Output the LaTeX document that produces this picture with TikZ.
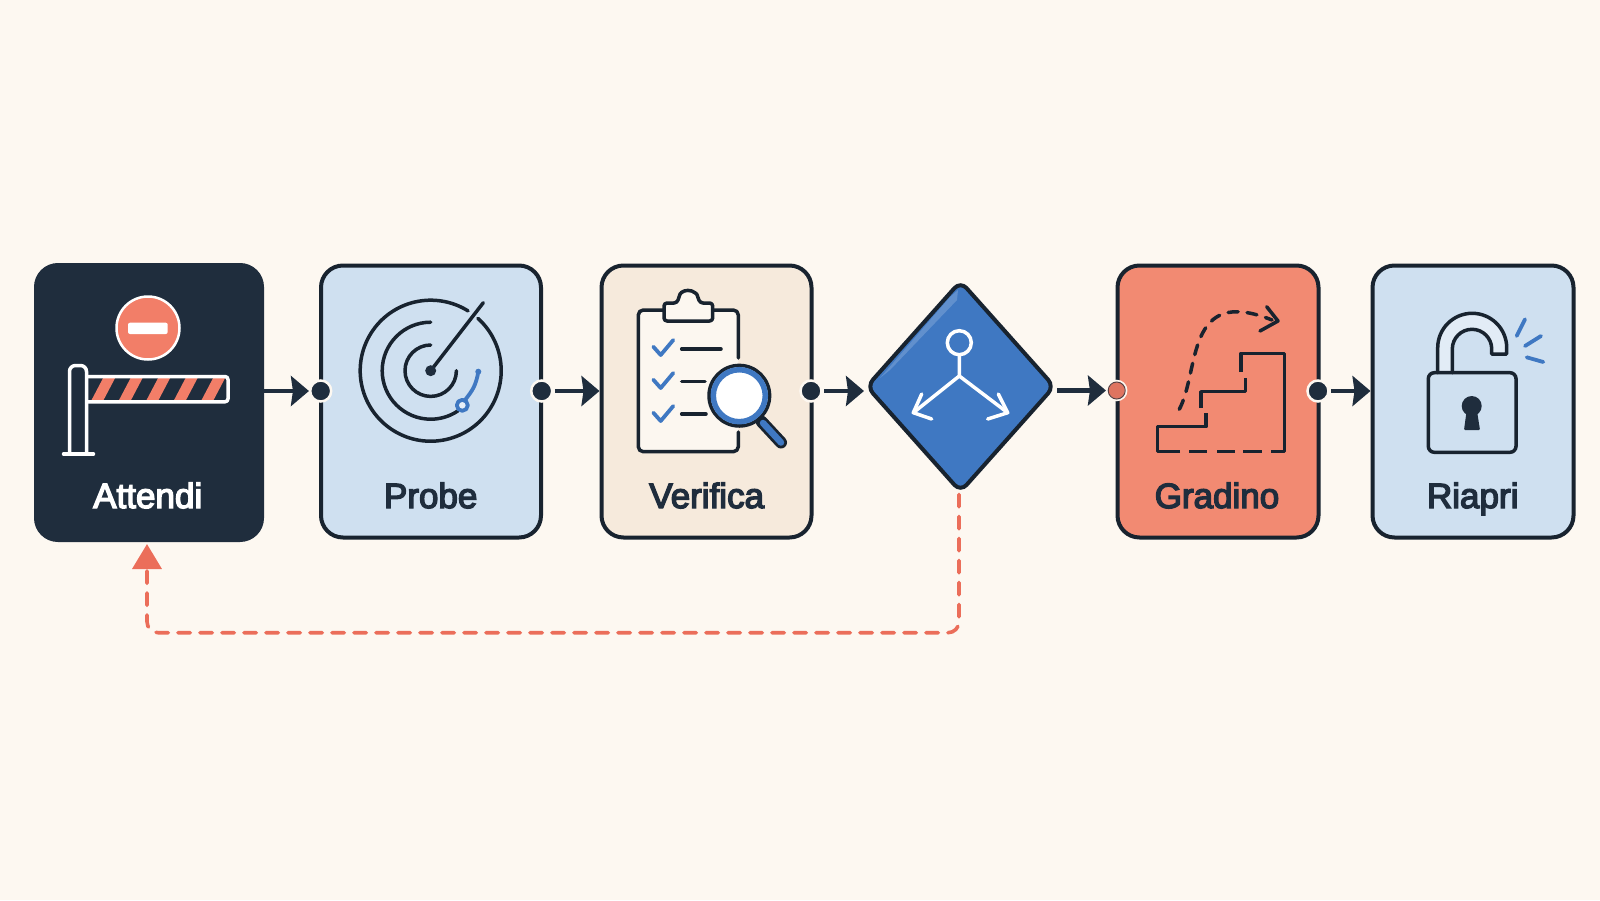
\documentclass[tikz,border=0pt]{standalone}
\usepackage{fontspec}
\usepackage{tikz}
\usetikzlibrary{arrows.meta,shapes.geometric}
\newfontface\cardfont{Liberation Sans}[FakeBold=4]
\definecolor{paper}{HTML}{FDF8F1}
\definecolor{ink}{HTML}{1F2D3D}
\definecolor{edge}{HTML}{18232F}
\definecolor{sky}{HTML}{CFE0F0}
\definecolor{sand}{HTML}{F6EADC}
\definecolor{coral}{HTML}{F28A72}
\definecolor{signred}{HTML}{F27E68}
\definecolor{returnred}{HTML}{EB6E5A}
\definecolor{azure}{HTML}{3F78C2}
\definecolor{boardwhite}{HTML}{FCF7F0}
\tikzset{
  cardbox/.style={draw=edge,line width=4pt,rounded corners=22pt,minimum width=#1,minimum height=272pt,inner sep=0pt},
  cardlabel/.style={anchor=base,text=ink,font=\cardfont\fontsize{35}{35}\selectfont,inner sep=0pt},
  portdot/.style={circle,fill=ink,draw=paper,line width=2.5pt,minimum size=21pt,inner sep=0pt},
  flowarrow/.style={draw=ink,line width=4.5pt,-{Stealth[length=18pt,width=30pt,inset=2pt]}},
  iconline/.style={draw=edge,line width=3.5pt,line cap=round,line join=round},
  whiteline/.style={draw=white,line width=3.5pt,line cap=round,line join=round},
  blueline/.style={draw=azure,line width=3.8pt,line cap=round,line join=round},
}
\begin{document}
\begin{tikzpicture}[x=1pt,y=-1pt]
\fill[paper] (0,0) rectangle (1600,900);
\useasboundingbox (0,0) rectangle (1600,900);
% cards
\node[cardbox=226pt,minimum height=275pt,fill=ink,draw=ink] (attendi) at (149,402.5) {};
\node[cardbox=220pt,fill=sky] (probe) at (431,401.5) {};
\node[cardbox=210pt,fill=sand] (verifica) at (706.5,401.5) {};
\node[diamond,draw=edge,line width=4pt,fill=azure,rounded corners=9pt,minimum width=189pt,minimum height=212pt,inner sep=0pt] (decision) at (960.5,386.5) {};
\node[cardbox=201pt,fill=coral] (gradino) at (1218,401.5) {};
\node[cardbox=201pt,fill=sky] (riapri) at (1473,401.5) {};
\foreach \who/\xpos/\txt in {probe/430.7/Probe,verifica/706.7/Verifica,gradino/1217/Gradino,riapri/1472.7/Riapri}{
  \node[cardlabel] (\who label) at (\xpos,508) {\txt};}
\node[cardlabel,text=white] (attendilabel) at (147.7,508) {Attendi};
% ports and flow
\node[portdot] (probein) at (320.7,391) {};
\node[portdot] (probeout) at (541.7,391) {};
\node[portdot] (verificaout) at (811,391) {};
\node[portdot,fill=signred!92!black,minimum size=19pt] (gradinoin) at (1116.7,390.5) {};
\node[circle,draw=edge!70!signred,line width=1pt,minimum size=17pt,inner sep=0pt] (gradinoring) at (gradinoin) {};
\node[portdot] (gradinoout) at (1318,391) {};
\draw[flowarrow] (attendi.east |- probein) -- (probein);
\draw[flowarrow,shorten <=1.5pt] (probeout) -- (verifica.west |- probeout);
\draw[flowarrow,shorten <=1.5pt] (verificaout) -- (decision.west |- verificaout);
\draw[flowarrow] (decision.east |- gradinoin) -- (gradinoin);
\draw[flowarrow,shorten <=1.5pt] (gradinoout) -- (riapri.west |- gradinoout);
% return path
\coordinate (loopcorner) at (147,632.7);
\draw[returnred,line width=3.6pt,line cap=round,dash pattern=on 12.4pt off 9.6pt,rounded corners=11pt,-{Triangle[length=25pt,width=29pt]},shorten >=2pt] ([xshift=-1.5pt]decision.south) |- (loopcorner) -- (attendi.south -| loopcorner);
% barrier
\node[circle,fill=signred,draw=white,line width=2.5pt,minimum size=63pt,inner sep=0pt] (stopsign) at (148,328) {};
\fill[white,rounded corners=2pt] (128,322.7) rectangle (167.7,334);
\begin{scope}
  \clip (88,376.5) rectangle (228,401.8);
  \foreach \s in {0,...,4}{
    \fill[signred,xshift=\s*27.5pt] (90,403)--(102,403)--(116.7,375)--(104.7,375)--cycle;}
\end{scope}
\draw[whiteline,rounded corners=3pt] (88,376.5)--(228,376.5)--(228,401.8)--(88,401.8);
\draw[whiteline,rounded corners=6pt] (69.5,453)--(69.5,365.5)--(86.5,365.5)--(86.5,453);
\draw[whiteline] (63.5,454)--(93.5,454);
% radar
\coordinate (radar) at (430.7,370.7);
\draw[iconline] ([shift={(58:70.5pt)}]radar) arc[start angle=58,end angle=408,radius=70.5pt];
\draw[iconline] ([shift={(90:48.5pt)}]radar) arc[start angle=90,end angle=304,radius=48.5pt];
\draw[iconline] ([shift={(90:25.7pt)}]radar) arc[start angle=90,end angle=360,radius=25.7pt];
\draw[iconline] (radar) -- (483.3,302.7);
\fill[ink] (radar) circle (5.5pt);
\draw[blueline] (465,400) .. controls (473,390) and (476,385) .. (478.3,371.7);
\fill[azure] (478.3,371.7) circle (3pt);
\draw[blueline,fill=sky!50!white] (462.3,405.3) circle (5.5pt);
% clipboard
\fill[boardwhite,rounded corners=5pt] (638.3,310) rectangle (738.3,451.7);
\draw[iconline,rounded corners=5pt] (738.3,358)--(738.3,310)--(638.3,310)--(638.3,451.7)--(738.3,451.7)--(738.3,432);
\draw[iconline,fill=boardwhite,rounded corners=3pt] (664,321)--(664,303)--(677,303)--(679,297) arc[start angle=160,end angle=20,radius=10pt]--(700,303)--(712.7,303)--(712.7,321)--cycle;
\foreach \yoff in {0,33,66}{
  \draw[blueline,yshift=-\yoff pt] (653.3,346.7)--(660.7,355)--(673.3,340);}
\draw[iconline] (681.7,349)--(721,349) (681.7,381.3)--(705,381.3) (681.7,414)--(706,414);
\draw[edge,line width=12pt,line cap=round] (761.7,421.7)--(781,442.5);
\draw[azure,line width=6.5pt,line cap=round] (763,423)--(781,442.5);
\draw[edge,line width=3.5pt,fill=white] (739.3,395.7) circle (30.3pt);
\draw[azure,line width=5.5pt] (739.3,395.7) circle (26pt);
% split mark
\fill[white,opacity=.18] (880,378)--(950,297)--(958,290)--(957,300)--(890,370)--cycle;
\draw[whiteline] (959.3,342.7) circle (12pt);
\draw[whiteline] (959.3,355)--(959.3,376)--(913.3,412.7) (959.3,376)--(1007.7,412.7);
\draw[whiteline] (921.7,394)--(913.3,412.7)--(931.7,419) (998.3,394)--(1007.7,412.7)--(987.7,419);
% step
\draw[iconline,line cap=butt] (1180,451.7)--(1157.3,451.7)--(1157.3,426.7)--(1206,426.7)--(1206,413.3);
\draw[iconline,line cap=butt] (1201,408)--(1201,391.7)--(1245.7,391.7)--(1245.7,378.3);
\draw[iconline,line cap=butt] (1241,372)--(1241,353.3)--(1284.3,353.3)--(1284.3,451.7)--(1271,451.7);
\draw[iconline,line cap=butt] (1189,451.7)--(1207,451.7) (1217,451.7)--(1235,451.7) (1243,451.7)--(1262,451.7);
\draw[iconline,dash pattern=on 10pt off 9pt] (1179.3,409.3) .. controls (1200,370) and (1185,285) .. (1272,320);
\draw[iconline] (1266.7,306.7)--(1278,321)--(1260,331);
% open lock
\draw[iconline,fill=sky!60!white] (1437.7,372.7)--(1437.7,347.8) arc[start angle=180,end angle=0,radius=34.5pt]--(1506.7,354)--(1491.7,354)--(1491.7,349) arc[start angle=0,end angle=180,radius=19.7pt]--(1452.3,372.7);
\draw[iconline,rounded corners=6pt] (1428.3,372.7) rectangle (1516,452.3);
\fill[ink] (1471.7,406) circle (10pt);
\fill[ink,rounded corners=1pt] (1467,408)--(1464,430)--(1480,430)--(1476.5,408)--cycle;
\draw[blueline] (1516.7,336)--(1525,319.3) (1525,346)--(1541,336) (1526.7,357.3)--(1543.3,362);
\end{tikzpicture}
\end{document}
